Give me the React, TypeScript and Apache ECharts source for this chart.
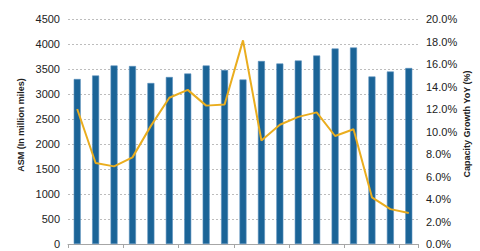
import React, { useEffect, useRef } from "react";
import * as echarts from "echarts";

const categories = ["1","2","3","4","5","6","7","8","9","10","11","12","13","14","15","16","17","18","19"];
const asmValues = [3300, 3370, 3570, 3560, 3220, 3340, 3410, 3570, 3480, 3290, 3660, 3610, 3670, 3770, 3910, 3930, 3350, 3450, 3520];
const growthValues = [12.0, 7.2, 6.9, 7.7, 10.5, 13.0, 13.7, 12.3, 12.4, 18.1, 9.2, 10.6, 11.3, 11.7, 9.6, 10.2, 4.15, 3.1, 2.75];
const leftTitle = "ASM (In million miles)";
const rightTitle = "Capacity Growth YoY (%)";

export default function App() {
  const ref = useRef<HTMLDivElement>(null);
  useEffect(() => {
    document.body.style.margin = "0";
    if (!ref.current) return;
    const chart = echarts.init(ref.current, null, { renderer: "svg" });
    const font = "Liberation Sans, Arial, sans-serif";
    chart.setOption({
      animation: false,
      backgroundColor: "#ffffff",
      grid: { left: 68, right: 62, top: 19, bottom: 7, containLabel: false },
      xAxis: {
        type: "category",
        data: categories,
        boundaryGap: true,
        axisLine: { show: true, lineStyle: { color: "#a6a6a6", width: 1 } },
        axisTick: { show: true, interval: 2, length: 4, lineStyle: { color: "#a6a6a6" } },
        axisLabel: { show: false },
      },
      yAxis: [
        {
          type: "value",
          min: 0,
          max: 4500,
          interval: 500,
          axisLine: { show: false },
          axisTick: { show: false },
          axisLabel: {
            color: "#222",
            fontSize: 11,
            fontFamily: font,
            margin: 8,
            formatter: (v: number) => String(v),
          },
          splitLine: { show: true, lineStyle: { color: "#bdbdbd", type: [2, 2], width: 1 } },
        },
        {
          type: "value",
          min: 0,
          max: 20,
          interval: 2,
          axisLine: { show: false },
          axisTick: { show: false },
          axisLabel: {
            color: "#222",
            fontSize: 11,
            fontFamily: font,
            margin: 8,
            formatter: (v: number) => v.toFixed(1) + "%",
          },
          splitLine: { show: false },
        },
      ],
      graphic: [
        {
          type: "text",
          x: 21,
          y: 125,
          rotation: Math.PI / 2,
          style: {
            text: leftTitle,
            fontSize: 9,
            fontWeight: "bold",
            fontFamily: font,
            fill: "#222",
            align: "center",
            verticalAlign: "middle",
          },
        },
        {
          type: "text",
          x: 467,
          y: 124,
          rotation: Math.PI / 2,
          style: {
            text: rightTitle,
            fontSize: 9,
            fontWeight: "bold",
            fontFamily: font,
            fill: "#222",
            align: "center",
            verticalAlign: "middle",
          },
        },
      ],
      series: [
        {
          type: "bar",
          data: asmValues,
          yAxisIndex: 0,
          barWidth: 7,
          itemStyle: { color: "#1b6497", borderColor: "#5a90bd", borderWidth: 0.6 },
        },
        {
          type: "line",
          data: growthValues,
          yAxisIndex: 1,
          symbol: "none",
          lineStyle: { color: "#eaad1e", width: 2 },
        },
      ],
    });
    return () => chart.dispose();
  }, []);
  return <div ref={ref} style={{ width: 480, height: 251 }} />;
}
